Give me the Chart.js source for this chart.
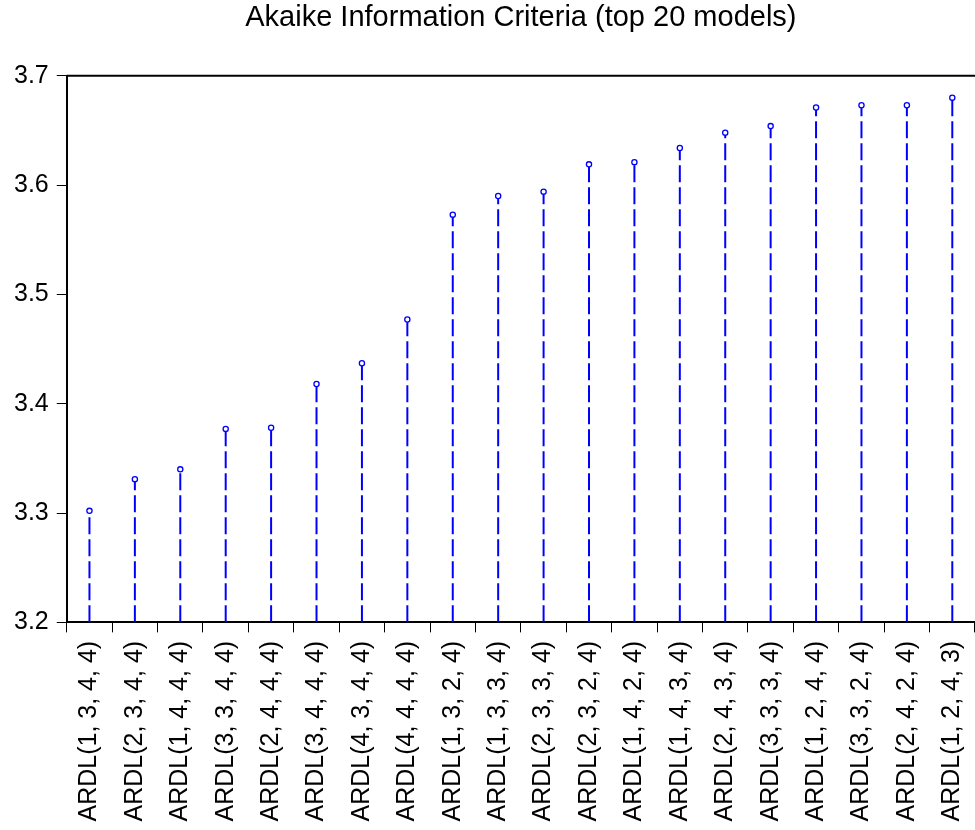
<!DOCTYPE html>
<html>
<head>
<meta charset="utf-8">
<script src="https://cdn.jsdelivr.net/npm/chart.js@4/dist/chart.umd.min.js"></script>
<style>
    html, body { margin: 0; padding: 0; background: #fff; }
    #wrap { width: 975px; height: 830px; }
</style>
</head>
<body>
<div id="wrap"><canvas id="aic-chart"></canvas></div>
<script>
const models = [
    'ARDL(1, 3, 4, 4)', 'ARDL(2, 3, 4, 4)', 'ARDL(1, 4, 4, 4)', 'ARDL(3, 3, 4, 4)',
    'ARDL(2, 4, 4, 4)', 'ARDL(3, 4, 4, 4)', 'ARDL(4, 3, 4, 4)', 'ARDL(4, 4, 4, 4)',
    'ARDL(1, 3, 2, 4)', 'ARDL(1, 3, 3, 4)', 'ARDL(2, 3, 3, 4)', 'ARDL(2, 3, 2, 4)',
    'ARDL(1, 4, 2, 4)', 'ARDL(1, 4, 3, 4)', 'ARDL(2, 4, 3, 4)', 'ARDL(3, 3, 3, 4)',
    'ARDL(1, 2, 4, 4)', 'ARDL(3, 3, 2, 4)', 'ARDL(2, 4, 2, 4)', 'ARDL(1, 2, 4, 3)',
];
const aicValues = [
    3.302, 3.331, 3.340, 3.377, 3.378, 3.418, 3.437, 3.477, 3.573, 3.590,
    3.594, 3.619, 3.621, 3.634, 3.648, 3.654, 3.671, 3.673, 3.673, 3.680,
];
const yTicks = [3.2, 3.3, 3.4, 3.5, 3.6, 3.7];
const baseValue = yTicks[0];

const font = "'Liberation Sans', Arial, sans-serif";
const stemBlue = '#0000ff';

// one dashed stem per model, from the axis base up to the value
const datasets = models.map((m, i) => ({
    label: m,
    data: [
        { x: m, y: baseValue },
        { x: m, y: aicValues[i] },
    ],
    borderColor: stemBlue,
    borderWidth: 2,
    borderDash: [17, 5],
    pointRadius: [0, 2.6],
    pointBorderWidth: 1.3,
    pointBorderColor: stemBlue,
    pointBackgroundColor: '#ffffff',
    fill: false,
}));

const topFrame = {
    id: 'topFrame',
    afterDraw(chart) {
        const { ctx, chartArea } = chart;
        ctx.save();
        ctx.strokeStyle = '#000';
        ctx.lineWidth = 2;
        ctx.beginPath();
        ctx.moveTo(chartArea.left, chartArea.top);
        ctx.lineTo(chartArea.right, chartArea.top);
        ctx.stroke();
        ctx.restore();
    },
};

new Chart(document.getElementById('aic-chart'), {
    type: 'line',
    data: { labels: models, datasets },
    plugins: [topFrame],
    options: {
        responsive: true,
        maintainAspectRatio: false,
        animation: false,
        layout: { autoPadding: false, padding: { left: 6, right: 0, top: 0, bottom: 0 } },
        plugins: {
            legend: { display: false },
            tooltip: { enabled: false },
            title: {
                display: true,
                fullSize: false,
                text: 'Akaike Information Criteria (top 20 models)',
                color: '#000',
                font: { family: font, size: 29, weight: 'normal' },
                padding: { top: 1, bottom: 40 },
            },
        },
        scales: {
            x: {
                type: 'category',
                offset: true,
                afterFit: (scale) => {
                    scale.paddingRight = 0;
                },
                grid: {
                    offset: true,
                    drawOnChartArea: false,
                    tickLength: 10,
                    tickColor: '#000',
                    tickWidth: 1,
                },
                border: { display: true, color: '#000', width: 2 },
                ticks: {
                    color: '#000',
                    font: { family: font, size: 25 },
                    minRotation: 90,
                    maxRotation: 90,
                    autoSkip: false,
                    padding: 8.5,
                },
            },
            y: {
                min: yTicks[0],
                max: yTicks[yTicks.length - 1],
                afterBuildTicks: (scale) => {
                    scale.ticks = yTicks.map((v) => ({ value: v }));
                },
                grid: {
                    drawOnChartArea: false,
                    tickLength: 10,
                    tickColor: '#000',
                    tickWidth: 1,
                },
                border: { display: true, color: '#000', width: 2 },
                ticks: {
                    color: '#000',
                    font: { family: font, size: 25 },
                    padding: 8,
                    callback: (v) => Number(v).toFixed(1),
                },
            },
        },
    },
});
</script>
</body>
</html>
